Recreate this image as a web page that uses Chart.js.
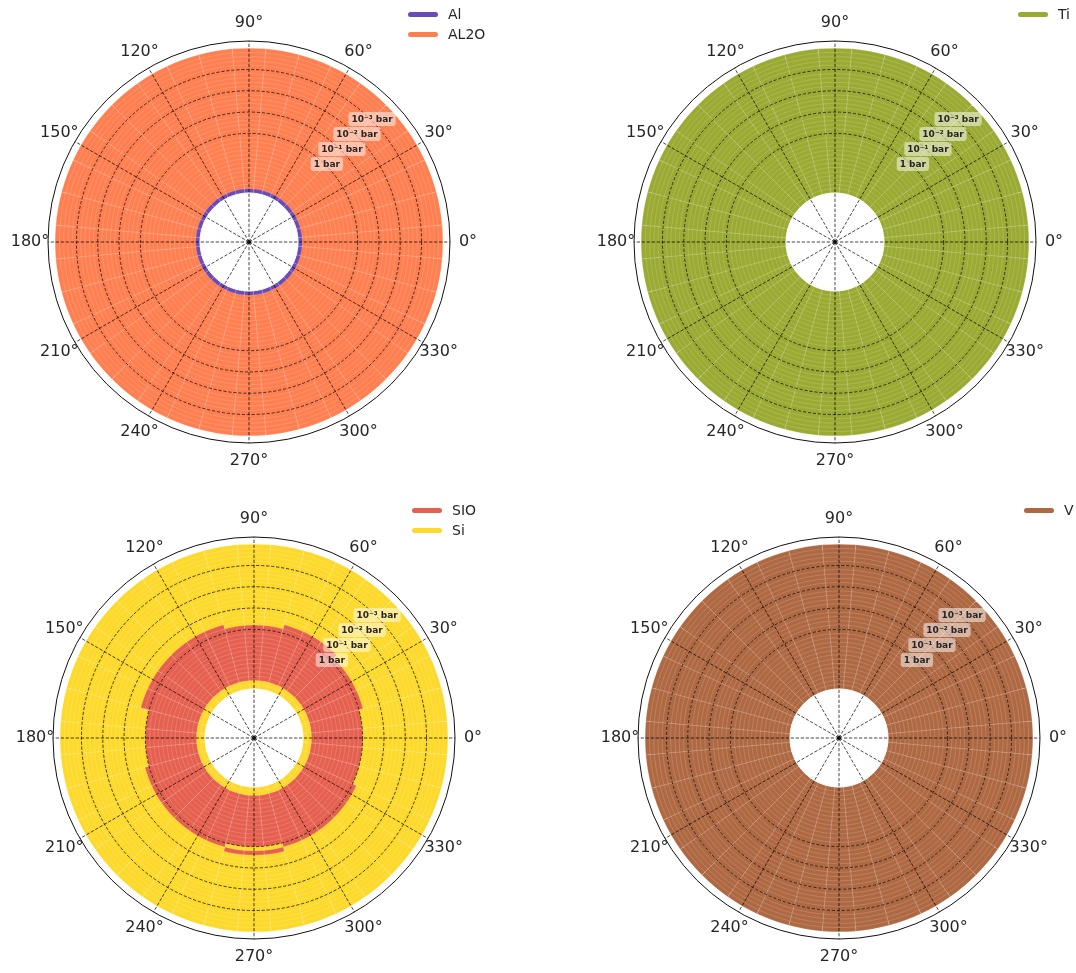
<!DOCTYPE html>
<html>
<head>
<meta charset="utf-8">
<script src="https://cdn.jsdelivr.net/npm/chart.js@4.4.0/dist/chart.umd.min.js"></script>
<style>
  html, body { margin: 0; padding: 0; background: #fff; overflow: hidden; }
  body { width: 1076px; height: 973px; position: relative; font-family: "DejaVu Sans", sans-serif; }
  canvas.panel { position: absolute; }
  .legend { position: absolute; font-size: 14px; color: #262626; }
  .legend .item { display: flex; align-items: center; height: 20px; white-space: nowrap; }
  .legend .swatch { display: inline-block; width: 30px; height: 5px; border-radius: 3px; margin-right: 10px; }
</style>
</head>
<body>
<script>
// layer edges, log10(P / bar), from the deepest level up
const ringEdges = [2.8, 2.6, 2.4, 2.2, 2.0, 1.8, 1.6, 1.4, 1.2, 1.0, 0.8, 0.6, 0.4, 0.2, 0.0,
  -0.2, -0.4, -0.6, -0.8, -1.0, -1.2, -1.4, -1.6, -1.8, -2.0, -2.2, -2.4, -2.6, -2.8,
  -3.0, -3.2, -3.4, -3.6, -3.8, -4.0];

// longitude of each column (degrees)
const lon = [0, 10, 20, 30, 40, 50, 60, 70, 80, 90, 100, 110, 120, 130, 140, 150, 160, 170,
  180, 190, 200, 210, 220, 230, 240, 250, 260, 270, 280, 290, 300, 310, 320, 330, 340, 350];

// angular ticks and pressure ticks
const angleTicks = [0, 30, 60, 90, 120, 150, 180, 210, 240, 270, 300, 330];
const tickLogP = [0, -1, -2, -3];
const tickLabels = ['1 bar', '10⁻¹ bar', '10⁻² bar', '10⁻³ bar'];

// Al / AL2O: Al only in the deepest layer
const alTopP = 2.6;

// SiO deck: base and top (log10 bar) for each longitude
const sioBaseP = 2.4;
const sioTopP = [0.0, 0.0, -0.2, -0.2, -0.2, -0.4, -0.4, -0.4, -0.2, -0.2, -0.2, -0.4,
  -0.4, -0.4, -0.4, -0.4, -0.4, 0.0, 0.0, 0.0, -0.2, -0.2, -0.2, -0.2,
  -0.2, -0.2, -0.4, -0.4, -0.4, -0.2, -0.2, -0.2, -0.2, -0.2, 0.0, 0.0];
// thin Si layer inside the SiO deck
const siPocketLon = [260, 270, 280];
const siPocketP = [0.0, -0.2];

const palette = {
  Al: '#6a4cb8', AL2O: '#ff7f50', Ti: '#9aaa32',
  SiO: '#e5604f', Si: '#fdd92b', V: '#ae6842'
};

const panels = [
  { cx: 249, cy: 242, legend: [408, 4], species: ['Al', 'AL2O'],
    cell: (l, p) => p > alTopP ? 'Al' : 'AL2O' },
  { cx: 835, cy: 242, legend: [1018, 4], species: ['Ti'],
    cell: () => 'Ti' },
  { cx: 254, cy: 738, legend: [412, 500], species: ['SIO', 'Si'],
    cell: (l, p) => {
      const i = lon.indexOf(l);
      if (siPocketLon.includes(l) && p < siPocketP[0] && p > siPocketP[1]) return 'Si';
      return (p < sioBaseP && p > sioTopP[i]) ? 'SiO' : 'Si';
    } },
  { cx: 839, cy: 738, legend: [1024, 500], species: ['V'],
    cell: () => 'V' }
];

// scale labels every 5 degrees so that 10-degree columns sit centred on the longitudes
const labels = [];
for (let k = 0; k < 72; k++) labels.push((95 - 5 * k + 360) % 360);

// columns run clockwise from the top, longitude 90 first
const columnLon = lon.map((_, i) => lon[((9 - i) % 36 + 36) % 36]);

const polarText = {
  id: 'polarText',
  afterDraw(chart) {
    const s = chart.scales.r;
    const ctx = chart.ctx;
    ctx.save();
    // centre marker where the spokes meet
    ctx.fillStyle = '#111';
    ctx.beginPath();
    ctx.arc(s.xCenter, s.yCenter, 2, 0, Math.PI * 2);
    ctx.fill();
    ctx.textAlign = 'center';
    ctx.textBaseline = 'middle';
    ctx.font = '16px "DejaVu Sans"';
    ctx.fillStyle = '#262626';
    angleTicks.forEach(a => {
      const t = a * Math.PI / 180;
      const r = s.drawingArea + 18;
      ctx.fillText(a + '°', s.xCenter + r * Math.cos(t), s.yCenter - r * Math.sin(t));
    });
    ctx.font = 'bold 9px "DejaVu Sans"';
    tickLogP.forEach((p, i) => {
      const r = s.getDistanceFromCenterForValue(-p) + 1.5;
      const x = s.xCenter + r * Math.SQRT1_2;
      const y = s.yCenter - r * Math.SQRT1_2;
      const w = ctx.measureText(tickLabels[i]).width + 6;
      ctx.fillStyle = 'rgba(255,255,255,0.5)';
      ctx.beginPath();
      ctx.roundRect(x - w / 2, y - 7, w, 14, 3);
      ctx.fill();
      ctx.fillStyle = '#262626';
      ctx.fillText(tickLabels[i], x, y + 0.5);
    });
    ctx.restore();
  }
};

panels.forEach(panel => {
  const canvas = document.createElement('canvas');
  canvas.className = 'panel';
  canvas.width = 500;
  canvas.height = 500;
  canvas.style.left = (panel.cx - 250) + 'px';
  canvas.style.top = (panel.cy - 250) + 'px';
  document.body.appendChild(canvas);

  // innermost dataset is drawn last: blank core below the deepest level
  const datasets = [{
    data: columnLon.map(() => -ringEdges[0]),
    backgroundColor: '#ffffff',
    borderColor: '#ffffff',
    borderWidth: 1
  }];
  for (let k = 0; k < ringEdges.length - 1; k++) {
    const mid = (ringEdges[k] + ringEdges[k + 1]) / 2;
    datasets.push({
      data: columnLon.map(() => -ringEdges[k + 1]),
      backgroundColor: columnLon.map(l => palette[panel.cell(l, mid)]),
      borderColor: 'rgba(255,255,255,0.28)',
      borderWidth: 0.6
    });
  }

  new Chart(canvas, {
    type: 'polarArea',
    data: { labels, datasets },
    options: {
      responsive: false,
      animation: false,
      events: [],
      layout: { padding: 49 },
      plugins: { legend: { display: false }, tooltip: { enabled: false } },
      scales: {
        r: {
          min: -5.1,
          max: 4.335,
          startAngle: -5,
          afterBuildTicks: scale => {
            scale.ticks = [-5.1, 0, 1, 2, 3, 4.335].map(v => ({ value: v }));
          },
          ticks: { display: false },
          pointLabels: { display: false },
          grid: {
            z: 1,
            circular: true,
            color: c => c.index === 0 ? 'rgba(0,0,0,0)' : (c.index === 5 ? '#111' : 'rgba(0,0,0,0.85)'),
            lineWidth: c => c.index === 5 ? 1 : 0.85
          },
          border: { dash: c => c.index === 5 ? [] : [3.3, 1.7] },
          angleLines: {
            display: true,
            color: c => labels[c.index] % 30 === 0 ? 'rgba(0,0,0,0.85)' : 'rgba(0,0,0,0)',
            lineWidth: 0.85,
            borderDash: [3.3, 1.7]
          }
        }
      }
    },
    plugins: [polarText]
  });

  // legend: one line sample per species
  const legend = document.createElement('div');
  legend.className = 'legend';
  legend.style.left = panel.legend[0] + 'px';
  legend.style.top = panel.legend[1] + 'px';
  panel.species.forEach(name => {
    const item = document.createElement('div');
    item.className = 'item';
    const sw = document.createElement('span');
    sw.className = 'swatch';
    sw.style.background = palette[name === 'SIO' ? 'SiO' : name];
    item.appendChild(sw);
    item.appendChild(document.createTextNode(name));
    legend.appendChild(item);
  });
  document.body.appendChild(legend);
});
</script>
</body>
</html>
